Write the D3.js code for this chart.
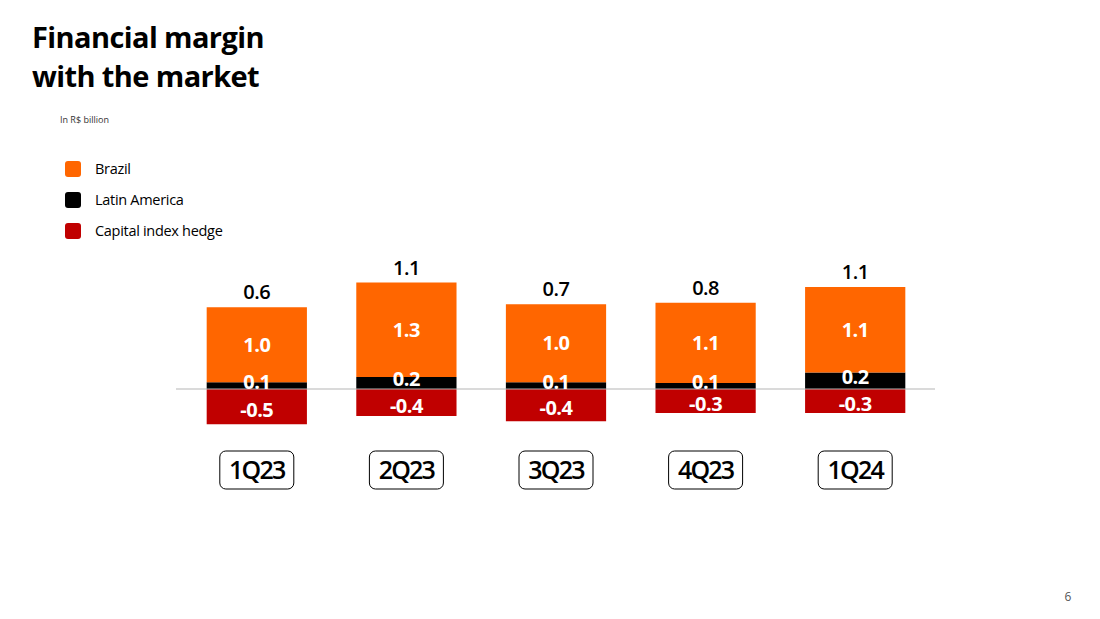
<!DOCTYPE html>
<html>
<head>
<meta charset="utf-8">
<script src="https://cdn.jsdelivr.net/npm/d3@7"></script>
<style>
  body { margin: 0; background: #fff; }
  svg { display: block; font-family: "Open Sans", "Noto Sans", sans-serif; }
</style>
</head>
<body>
<div id="chart"></div>
<script>
// Data (R$ billion)
const quarters = ["1Q23", "2Q23", "3Q23", "4Q23", "1Q24"];
const brazil = [1.0, 1.26, 1.04, 1.07, 1.14];
const latinAmerica = [0.09, 0.16, 0.09, 0.08, 0.22];
const capitalHedge = [-0.47, -0.36, -0.43, -0.32, -0.32];
const totals = [0.6, 1.1, 0.7, 0.8, 1.1];
const legendItems = ["Brazil", "Latin America", "Capital index hedge"];

const colors = { brazil: "#ff6600", latam: "#000000", hedge: "#c00000" };
const width = 1100, height = 619;

const svg = d3.select("#chart").append("svg")
    .attr("width", width)
    .attr("height", height);

// Title
const title = svg.append("text")
    .attr("x", 32)
    .attr("font-size", 29)
    .attr("font-weight", 700)
    .attr("letter-spacing", -0.6)
    .attr("fill", "#000");
title.append("tspan").attr("x", 32).attr("y", 48).text("Financial margin");
title.append("tspan").attr("x", 32).attr("y", 87).text("with the market");

svg.append("text")
    .attr("x", 60)
    .attr("y", 123)
    .attr("font-size", 9)
    .attr("fill", "#333")
    .text("In R$ billion");

// Legend
const legendColors = [colors.brazil, colors.latam, colors.hedge];
const legend = svg.selectAll(".legend")
    .data(legendItems)
    .enter()
    .append("g")
    .attr("class", "legend")
    .attr("transform", (d, i) => `translate(65, ${161 + i * 31})`);

legend.append("rect")
    .attr("width", 16)
    .attr("height", 16)
    .attr("rx", 3)
    .attr("fill", (d, i) => legendColors[i]);

legend.append("text")
    .attr("x", 30)
    .attr("y", 13)
    .attr("font-size", 14.5)
    .attr("letter-spacing", -0.3)
    .attr("fill", "#000")
    .text(d => d);

// Scales
const xScale = d3.scaleBand()
    .domain(quarters)
    .range([182, 930])
    .paddingInner(0.33)
    .paddingOuter(0.165);

const yScale = d3.scaleLinear()
    .domain([-0.6, 1.6])
    .range([434, 269]);

const rows = quarters.map((q, i) => ({
    q, brazil: brazil[i], latam: latinAmerica[i], hedge: capitalHedge[i], total: totals[i]
}));

const bw = xScale.bandwidth();
const fmt = v => v.toFixed(1); // plain hyphen minus like the slide

// Capital index hedge (negative)
svg.selectAll(".hedge")
    .data(rows)
    .enter()
    .append("rect")
    .attr("x", d => xScale(d.q))
    .attr("y", yScale(0))
    .attr("width", bw)
    .attr("height", d => yScale(d.hedge) - yScale(0))
    .attr("fill", colors.hedge);

// Latin America
svg.selectAll(".latam")
    .data(rows)
    .enter()
    .append("rect")
    .attr("x", d => xScale(d.q))
    .attr("y", d => yScale(d.latam))
    .attr("width", bw)
    .attr("height", d => yScale(0) - yScale(d.latam))
    .attr("fill", colors.latam);

// Brazil
svg.selectAll(".brazil")
    .data(rows)
    .enter()
    .append("rect")
    .attr("x", d => xScale(d.q))
    .attr("y", d => yScale(d.latam + d.brazil))
    .attr("width", bw)
    .attr("height", d => yScale(d.latam) - yScale(d.latam + d.brazil))
    .attr("fill", colors.brazil);

// Zero line
svg.append("line")
    .attr("x1", 176)
    .attr("x2", 935)
    .attr("y1", yScale(0))
    .attr("y2", yScale(0))
    .attr("stroke", "#b5b5b5")
    .attr("stroke-width", 1);

const cx = d => xScale(d.q) + bw / 2;

// Segment labels
svg.selectAll(".lbl-brazil")
    .data(rows)
    .enter()
    .append("text")
    .attr("x", cx)
    .attr("y", d => (yScale(d.latam) + yScale(d.latam + d.brazil)) / 2 + 7)
    .attr("text-anchor", "middle")
    .attr("font-size", 20)
    .attr("font-weight", 700)
    .attr("letter-spacing", -0.5)
    .attr("fill", "#fff")
    .text(d => fmt(d.brazil));

svg.selectAll(".lbl-latam")
    .data(rows)
    .enter()
    .append("text")
    .attr("x", cx)
    .attr("y", d => (yScale(0) + yScale(d.latam)) / 2 + 3)
    .attr("text-anchor", "middle")
    .attr("font-size", 20)
    .attr("font-weight", 700)
    .attr("letter-spacing", -0.5)
    .attr("fill", "#fff")
    .text(d => fmt(d.latam));

svg.selectAll(".lbl-hedge")
    .data(rows)
    .enter()
    .append("text")
    .attr("x", cx)
    .attr("y", d => (yScale(0) + yScale(d.hedge)) / 2 + 10)
    .attr("text-anchor", "middle")
    .attr("font-size", 20)
    .attr("font-weight", 700)
    .attr("letter-spacing", -0.5)
    .attr("fill", "#fff")
    .text(d => fmt(d.hedge));

// Totals above bars
svg.selectAll(".lbl-total")
    .data(rows)
    .enter()
    .append("text")
    .attr("x", cx)
    .attr("y", d => yScale(d.latam + d.brazil) - 8)
    .attr("text-anchor", "middle")
    .attr("font-size", 20)
    .attr("font-weight", 600)
    .attr("letter-spacing", -0.5)
    .attr("fill", "#000")
    .text(d => fmt(d.total));

// Category boxes
const cat = svg.selectAll(".cat")
    .data(rows)
    .enter()
    .append("g")
    .attr("class", "cat")
    .attr("transform", d => `translate(${cx(d)}, 470)`);

cat.append("rect")
    .attr("x", -37)
    .attr("y", -19)
    .attr("width", 74)
    .attr("height", 38)
    .attr("rx", 6)
    .attr("fill", "#fff")
    .attr("stroke", "#000")
    .attr("stroke-width", 1);

cat.append("text")
    .attr("y", 9)
    .attr("text-anchor", "middle")
    .attr("font-size", 25)
    .attr("font-weight", 600)
    .attr("letter-spacing", -1.8)
    .attr("fill", "#000")
    .text(d => d.q);

// Page number
svg.append("text")
    .attr("x", 1068)
    .attr("y", 601)
    .attr("text-anchor", "middle")
    .attr("font-size", 12)
    .attr("fill", "#555")
    .text("6");
</script>
</body>
</html>
